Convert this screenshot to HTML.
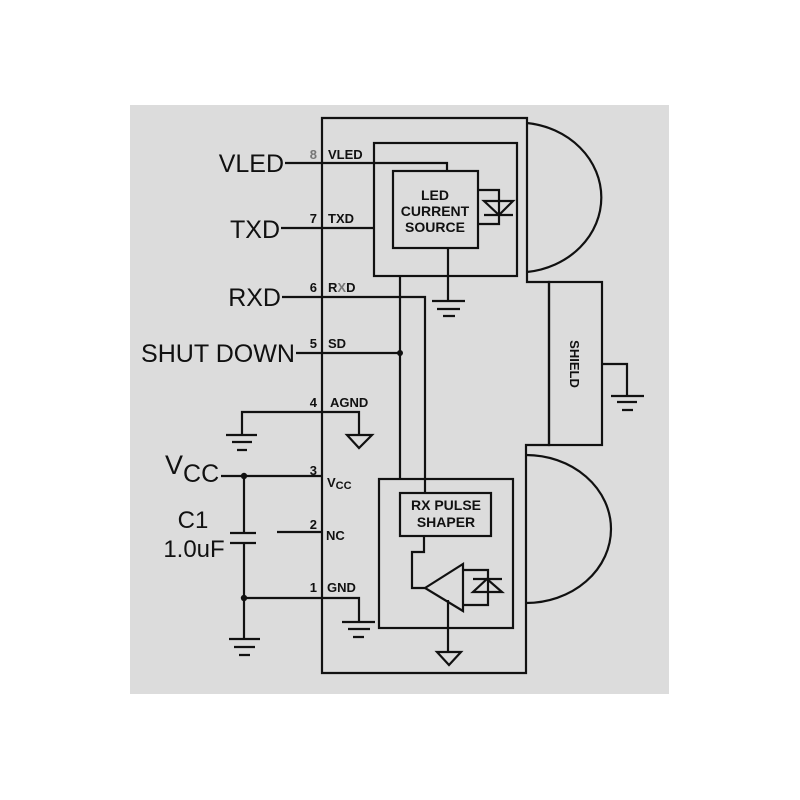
<!DOCTYPE html>
<html><head><style>
html,body{margin:0;padding:0;background:#fff;}
svg{display:block;}
text{font-family:"Liberation Sans",Arial,sans-serif;fill:#111;}
.p{font-size:13px;font-weight:bold;}
.b{font-size:25px;}
.i{font-size:14px;font-weight:bold;}
</style></head><body>
<svg width="800" height="800" viewBox="0 0 800 800" xmlns="http://www.w3.org/2000/svg">
<rect x="0" y="0" width="800" height="800" fill="#fff"/>
<rect x="130" y="105" width="539" height="589" fill="#dcdcdc"/>
<g fill="none" stroke="#111" stroke-width="2.2">
<path d="M322,118 H527 V282 H549 V445 H526 V673 H322 Z"/>
<rect x="549" y="282" width="53" height="163"/>
<path d="M527,123 A84,75 0 0 1 527,272"/>
<path d="M526,455 A85,74 0 0 1 526,603"/>
<path d="M602,364 H627 V396"/>
<path d="M611,396 H644 M617,402 H637 M622,410 H633"/>
<rect x="374" y="143" width="143" height="133"/>
<rect x="393" y="171" width="85" height="77"/>
<path d="M285,163 H447 V171"/>
<path d="M281,228 H374"/>
<path d="M282,297 H425 V493"/>
<path d="M400,276 V479"/>
<path d="M296,353 H400"/>
<path d="M448,248 V301 M432,301 H465 M437,309 H460 M443,316 H455"/>
<path d="M478,190 H499 V224 H478"/>
<path d="M484,201 H513 L499,215 Z M484,215 H513"/>
<path d="M242,435 V412 H359 V435"/>
<path d="M226,435 H257 M232,442 H252 M237,450 H247"/>
<path d="M347,435 H372 L359,448 Z"/>
<path d="M221,476 H322"/>
<path d="M244,476 V533 M230,533 H256 M230,543 H256 M244,543 V639"/>
<path d="M229,639 H260 M234,647 H255 M239,655 H250"/>
<path d="M244,598 H359 V622"/>
<path d="M342,622 H375 M348,629 H370 M353,637 H364"/>
<path d="M277,532 H322"/>
<rect x="379" y="479" width="134" height="149"/>
<rect x="400" y="493" width="91" height="43"/>
<path d="M424,536 V552 H412 V588 H425"/>
<path d="M425,588 L463,564 V611 Z"/>
<path d="M463,570 H488 V605 H463"/>
<path d="M473,579 H502 M473,592 H502 L487,579 Z"/>
<path d="M448,600 V652"/>
<path d="M437,652 H461 L449,665 Z"/>
</g>
<g fill="#111">
<circle cx="400" cy="353" r="3"/>
<circle cx="244" cy="476" r="3.2"/>
<circle cx="244" cy="598" r="3.2"/>
</g>
<g class="p">
<text x="317" y="159" text-anchor="end" style="fill:#777">8</text><text x="328" y="159" class="p">VLED</text>
<text x="317" y="223" text-anchor="end">7</text><text x="328" y="223" class="p">TXD</text>
<text x="317" y="292" text-anchor="end">6</text><text x="328" y="292" class="p">R<tspan style="fill:#777">X</tspan>D</text>
<text x="317" y="348" text-anchor="end">5</text><text x="328" y="348" class="p">SD</text>
<text x="317" y="407" text-anchor="end">4</text><text x="330" y="407" class="p">AGND</text>
<text x="317" y="475" text-anchor="end">3</text><text x="327" y="487" class="p">V<tspan font-size="11" dy="2">CC</tspan></text>
<text x="317" y="529" text-anchor="end">2</text><text x="326" y="540" class="p">NC</text>
<text x="317" y="592" text-anchor="end">1</text><text x="327" y="592" class="p">GND</text>
</g>
<text x="284" y="172" text-anchor="end" class="b">VLED</text>
<text x="280" y="238" text-anchor="end" class="b">TXD</text>
<text x="281" y="306" text-anchor="end" class="b">RXD</text>
<text x="295" y="362" text-anchor="end" class="b" textLength="154" lengthAdjust="spacingAndGlyphs">SHUT DOWN</text>
<text x="165" y="474" class="b" style="font-size:27px">V<tspan dy="8" style="font-size:25px">CC</tspan></text>
<text x="193" y="528" text-anchor="middle" class="b" style="font-size:24px">C1</text>
<text x="194" y="557" text-anchor="middle" class="b" style="font-size:24px">1.0uF</text>
<g class="i" text-anchor="middle">
<text x="435" y="200">LED</text>
<text x="435" y="216">CURRENT</text>
<text x="435" y="232">SOURCE</text>
<text x="446" y="510">RX PULSE</text>
<text x="446" y="527">SHAPER</text>
</g>
<text x="0" y="0" transform="translate(570,364) rotate(90)" text-anchor="middle" style="font-size:13px;font-weight:bold">SHIELD</text>
</svg>
</body></html>
